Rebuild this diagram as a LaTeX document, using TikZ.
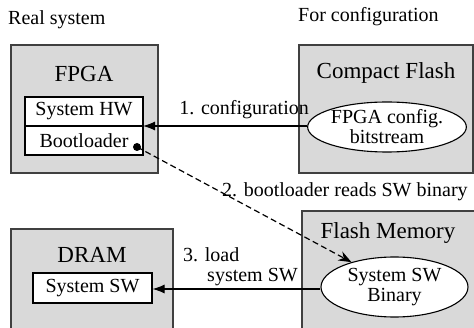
\documentclass[tikz,border=0pt]{standalone}
\usepackage{fontspec}
\setmainfont{Liberation Serif}
\usetikzlibrary{shapes.geometric,arrows.meta}
\definecolor{boxgray}{RGB}{217,217,217}
\definecolor{boxline}{RGB}{64,64,64}
\tikzset{
  unit/.style={draw=boxline,fill=boxgray,line width=1.2pt},
  title/.style={font=\fontsize{23}{26}\selectfont,inner sep=0pt},
  lbl/.style={font=\fontsize{20}{23}\selectfont,inner sep=0pt},
  part/.style={draw=black,fill=white,line width=1.1pt,minimum width=118pt,minimum height=29pt,inner sep=0pt,font=\fontsize{20}{23}\selectfont},
  store/.style={ellipse,draw=black,fill=white,line width=1.1pt,inner sep=0pt,align=center,font=\fontsize{20}{23}\selectfont},
  flow/.style={line width=1.1pt,-{Latex[length=12pt,width=9pt]}},
}
\begin{document}
\begin{tikzpicture}[x=1pt,y=-1pt]
\useasboundingbox (0,0) rectangle (474,328);

% group headings
\node[lbl,anchor=west] (hreal) at (8,20) {Real system};
\node[lbl,anchor=west] (hcfg) at (298,17) {For configuration};

% FPGA
\filldraw[unit] (11,45) rectangle (158,173);
\node[title] (fpga) at (84,74) {FPGA};
\node[part] (hw) at (84,111.5) {System HW};
\node[part] (boot) at (84,140.5) {Bootloader};

% Compact Flash
\filldraw[unit] (299,45) rectangle (473,173);
\node[title] (cf) at (386,73) {Compact Flash};
\node[store,minimum width=152pt,minimum height=50pt] (bits) at (387,127) {FPGA config.\\[-3pt]bitstream};

% DRAM (runs past the lower edge)
\path[fill=boxgray] (11,340) -- (11,229) -- (173,229) -- (173,340) -- cycle;
\draw[draw=boxline,line width=1.2pt] (11,340) -- (11,229) -- (173,229) -- (173,340);
\node[title] (dram) at (92,255) {DRAM};
\node[part,minimum width=119pt,minimum height=30pt] (sw) at (92.5,288) {System SW};

% Flash Memory (runs past the lower and right edges)
\path[fill=boxgray] (302,340) -- (302,211) -- (480,211) -- (480,340) -- cycle;
\draw[draw=boxline,line width=1.2pt] (302,340) -- (302,211) -- (480,211);
\node[title] (fm) at (388,233) {Flash Memory};
\node[store,minimum width=147pt,minimum height=60pt] (bin) at (394.5,287) {System SW\\[-3pt]Binary};

% 1. configuration
\coordinate (hwjoin) at (143,126);
\draw[flow] (bits.west |- 0,126) -- (hwjoin);
\node[lbl,anchor=south east] (l1) at (309,119) {1. configuration};

% 2. bootloader reads the SW binary
\coordinate (bootpin) at (137,147);
\fill[black] (bootpin) circle (4pt);
\draw[line width=1.2pt,dash pattern=on 6pt off 3.5pt,-{Stealth[length=13pt,width=10pt]}] (bootpin) -- (bin.150);
\node[lbl,anchor=west] (l2) at (222,192) {2. bootloader reads SW binary};

% 3. load system SW
\draw[flow] (bin.west |- 0,289) -- (sw.east |- 0,289);
\node[lbl,anchor=west] (l3a) at (183,255) {3. load};
\node[lbl,anchor=east] (l3b) at (298,277) {system SW};
\end{tikzpicture}
\end{document}
